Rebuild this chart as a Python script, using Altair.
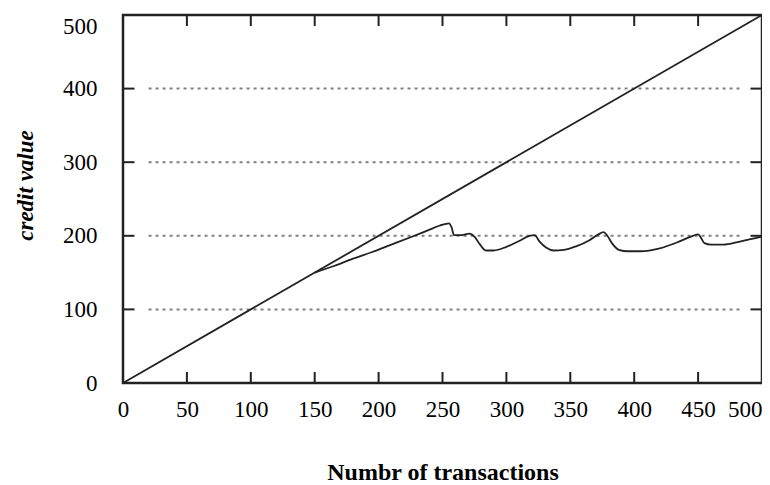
import altair as alt
import pandas as pd

# ---- data ----
diag_x = [0, 500]
diag_y = [0, 500]

credit_x = [150, 165, 180, 195, 210, 225, 238, 248, 255, 257, 259, 265, 271, 275, 279, 284,
            290, 300, 310, 318, 322, 326, 331, 337, 345, 355, 365, 372, 376, 379, 383, 388,
            395, 405, 420, 435, 446, 450, 452, 455, 460, 470, 480, 490, 500]
credit_y = [150, 159, 169, 178, 188, 198, 207, 214, 217, 212, 201, 201, 203, 199, 189, 180,
            180, 185, 193, 200, 201, 192, 184, 180, 181, 186, 194, 202, 205, 200, 189, 181,
            179, 179, 183, 192, 200, 202, 198, 190, 188, 188, 191, 195, 199]

x_ticks = [0, 50, 100, 150, 200, 250, 300, 350, 400, 450, 500]
y_ticks = [0, 100, 200, 300, 400, 500]
grid_y = [100, 200, 300, 400]
grid_x_from, grid_x_to = 20, 483
inner_x_ticks = [50, 100, 150, 200, 250, 300, 350, 400, 450]
inner_y_ticks = [100, 200, 300, 400]
tick_len_y = 15   # length of x-axis ticks in y units
tick_len_x = 9    # length of y-axis ticks in x units

FONT = "Liberation Serif"
W, H = 639, 368

xs = alt.Scale(domain=[0, 500], nice=False, zero=False)
ys = alt.Scale(domain=[0, 500], nice=False, zero=False)

x_axis = alt.Axis(values=x_ticks, ticks=False, domain=False, grid=False,
                  labelFont=FONT, labelFontSize=23, labelColor="black", labelPadding=15,
                  labelAlign=alt.expr("datum.value == 500 ? 'right' : 'center'"),
                  title="Numbr of transactions", titleFont=FONT, titleFontSize=24,
                  titleFontWeight="bold", titleColor="black",
                  titleX=W / 2, titleY=96, titleAlign="center", titleBaseline="alphabetic")
y_axis = alt.Axis(values=y_ticks, ticks=False, domain=False, grid=False,
                  labelFont=FONT, labelFontSize=23, labelColor="black", labelPadding=26,
                  labelBaseline=alt.expr("datum.value == 500 ? 'top' : 'middle'"),
                  title="credit value", titleFont=FONT, titleFontSize=23,
                  titleFontWeight="bold", titleFontStyle="italic", titleColor="black",
                  titleX=-98, titleY=170, titleAngle=-90, titleAlign="center",
                  titleBaseline="middle")

# dotted gridlines
grid_df = pd.DataFrame({"y": grid_y, "x": [grid_x_from] * len(grid_y),
                        "x2": [grid_x_to] * len(grid_y)})
grid = alt.Chart(grid_df).mark_rule(color="#808080", strokeWidth=2, strokeDash=[3, 4]).encode(
    x=alt.X("x:Q", scale=xs, axis=x_axis), x2="x2:Q",
    y=alt.Y("y:Q", scale=ys, axis=y_axis))

# inward tick marks on all four sides
vt_rows = []
for v in inner_x_ticks:
    vt_rows.append({"x": v, "y": 0, "y2": tick_len_y})
    vt_rows.append({"x": v, "y": 500 - tick_len_y, "y2": 500})
ht_rows = []
for v in inner_y_ticks:
    ht_rows.append({"y": v, "x": 0, "x2": tick_len_x})
    ht_rows.append({"y": v, "x": 500 - tick_len_x, "x2": 500})
vticks = alt.Chart(pd.DataFrame(vt_rows)).mark_rule(color="#222222", strokeWidth=2).encode(
    x=alt.X("x:Q", scale=xs), y=alt.Y("y:Q", scale=ys), y2="y2:Q")
hticks = alt.Chart(pd.DataFrame(ht_rows)).mark_rule(color="#222222", strokeWidth=2).encode(
    y=alt.Y("y:Q", scale=ys), x=alt.X("x:Q", scale=xs), x2="x2:Q")

diag = alt.Chart(pd.DataFrame({"x": diag_x, "y": diag_y})).mark_line(
    color="#222222", strokeWidth=1.8).encode(
    x=alt.X("x:Q", scale=xs), y=alt.Y("y:Q", scale=ys))

credit = alt.Chart(pd.DataFrame({"x": credit_x, "y": credit_y})).mark_line(
    color="#222222", strokeWidth=1.8, interpolate="monotone").encode(
    x=alt.X("x:Q", scale=xs), y=alt.Y("y:Q", scale=ys))

chart = alt.layer(grid, vticks, hticks, diag, credit).properties(
    width=W, height=H,
    autosize=alt.AutoSizeParams(type="none"),
    padding={"left": 115, "top": 7, "right": 0, "bottom": 102},
).configure(background="white").configure_view(stroke="#222222", strokeWidth=2.5)

chart.save("out.html", embed_options={"renderer": "svg", "actions": False})
